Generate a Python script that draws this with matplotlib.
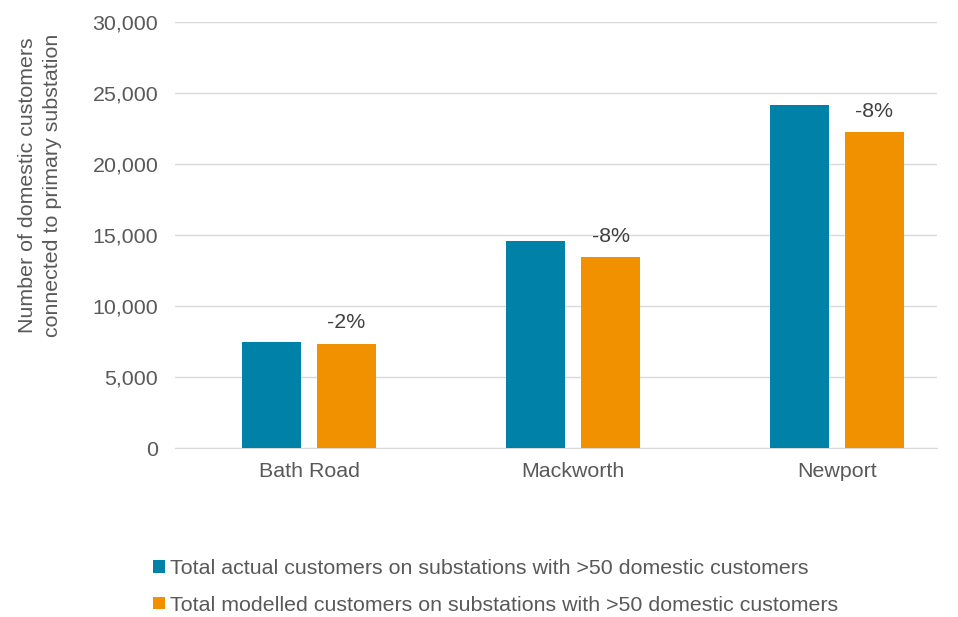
import numpy as np
import matplotlib.pyplot as plt

plt.rcParams['font.family'] = ['Liberation Sans', 'DejaVu Sans']

categories = ["Bath Road", "Mackworth", "Newport"]
actual = [7500, 14600, 24150]
modelled = [7350, 13450, 22250]
pct_labels = ["-2%", "-8%", "-8%"]

series_names = ["Total actual customers on substations with >50 domestic customers",
                "Total modelled customers on substations with >50 domestic customers"]
BLUE = "#0081A7"
ORANGE = "#F29100"
GREY_TXT = "#595959"
FS = 15.4

fig = plt.figure(figsize=(9.58, 6.17), dpi=100)
ax = fig.add_axes([175 / 958, 1 - 448 / 617, (937 - 175) / 958, (448 - 22) / 617])

x = np.arange(len(categories))
w = 0.223
off = 0.142
b1 = ax.bar(x - off, actual, width=w, color=BLUE, label=series_names[0], zorder=3)
b2 = ax.bar(x + off, modelled, width=w, color=ORANGE, label=series_names[1], zorder=3)

for xi, v, t in zip(x + off, modelled, pct_labels):
    ax.annotate(t, (xi, v), xytext=(0, 15), textcoords="offset points",
                ha="center", va="center", fontsize=FS, color="#404040", zorder=4)

ax.set_ylim(0, 30000)
ax.set_xlim(-0.508, 2.379)
ax.set_yticks(np.arange(0, 30001, 5000))
ax.set_yticklabels([f"{v:,}" for v in range(0, 30001, 5000)])
ax.set_xticks(x)
ax.set_xticklabels(categories)
ax.tick_params(axis="both", length=0, labelsize=FS, labelcolor=GREY_TXT)
ax.tick_params(axis="y", pad=12)
ax.tick_params(axis="x", pad=10)
ax.yaxis.grid(True, color="#d9d9d9", linewidth=1, zorder=0)
for s in ["top", "right", "left"]:
    ax.spines[s].set_visible(False)
ax.spines["bottom"].set_color("#d9d9d9")

fig.text(40 / 958, 1 - 185 / 617,
         "Number of domestic customers\nconnected to primary substation",
         rotation=90, ha="center", va="center", fontsize=FS, color=GREY_TXT,
         linespacing=1.35)

fig.legend(handles=[b1, b2], loc="center left", bbox_to_anchor=(153 / 958, 1 - 587 / 617),
           frameon=False, fontsize=FS, labelcolor=GREY_TXT,
           handlelength=0.55, handleheight=0.55, handletextpad=0.25, labelspacing=0.8,
           borderaxespad=0, borderpad=0)

fig.savefig("out.png", dpi=100)
